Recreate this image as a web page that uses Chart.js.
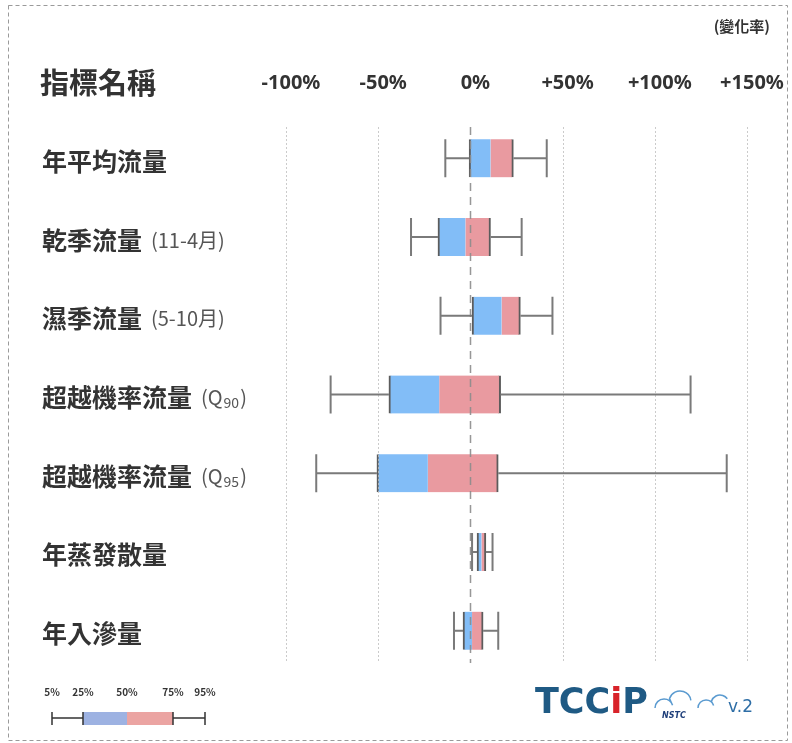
<!DOCTYPE html>
<html>
<head>
<meta charset="utf-8">
<script src="https://cdn.jsdelivr.net/npm/chart.js@4.4.1/dist/chart.umd.min.js"></script>
<style>
  html, body { margin: 0; padding: 0; background: #fff; }
  #wrap { width: 792px; height: 743px; position: relative; }
</style>
</head>
<body>
<div id="wrap"><canvas id="chart" width="792" height="743"></canvas></div>
<script>
// indicator names and their small suffixes
const categories = ['年平均流量', '乾季流量', '濕季流量', '超越機率流量', '超越機率流量', '年蒸發散量', '年入滲量'];
const suffixText = ['', '(11-4月)', '(5-10月)', '(Q', '(Q', '', ''];
const suffixSub = ['', '', '', '90', '95', '', ''];

// percentiles of change rate (%)
const p5  = [-13.6, -32.2, -16.2, -75.8, -83.6, 0.9, -8.9];
const p25 = [-0.7, -17.6, 0.9, -44.2, -50.7, 3.6, -4.0];
const p50 = [10.9, -2.7, 16.9, -16.9, -23.1, 6.0, 0.9];
const p75 = [23.3, 10.9, 27.1, 16.4, 15.1, 8.4, 6.9];
const p95 = [41.4, 27.8, 44.5, 119.4, 139.0, 12.0, 15.1];

const tickValues = [-100, -50, 0, 50, 100, 150];
const legendLabels = ['5%', '25%', '50%', '75%', '95%'];

const cjk = '"Noto Sans CJK TC", "Noto Sans", sans-serif';

function tickLabel(v) {
    return (v > 0 ? '+' : '') + v + '%';
}

// gridlines (drawn over the boxes, like the original) and the top tick labels
const gridPlugin = {
    id: 'grid',
    afterDatasetsDraw(chart) {
        const ctx = chart.ctx;
        const x = chart.scales.x;
        const top = chart.chartArea.top + 8;
        const bottom = chart.chartArea.bottom - 7;
        ctx.save();
        tickValues.forEach(v => {
            const px = Math.round(x.getPixelForValue(v)) + 0.5;
            ctx.beginPath();
            if (v === 0) {
                ctx.strokeStyle = 'rgba(140,140,140,0.9)';
                ctx.lineWidth = 1.5;
                ctx.setLineDash([8, 6]);
            } else {
                ctx.strokeStyle = 'rgba(190,190,190,0.8)';
                ctx.lineWidth = 1;
                ctx.setLineDash([2, 2]);
            }
            ctx.moveTo(px, top);
            ctx.lineTo(px, bottom);
            ctx.stroke();
        });
        ctx.setLineDash([]);
        ctx.fillStyle = '#333';
        ctx.font = 'bold 20px "Noto Sans", sans-serif';
        ctx.textAlign = 'center';
        ctx.textBaseline = 'middle';
        tickValues.forEach(v => {
            ctx.fillText(tickLabel(v), x.getPixelForValue(v) + 5, 83);
        });
        ctx.restore();
    }
};

// whiskers 5%-25% and 75%-95%
const whiskerPlugin = {
    id: 'whiskers',
    afterDatasetsDraw(chart) {
        const ctx = chart.ctx;
        const x = chart.scales.x;
        const y = chart.scales.y;
        const half = 19;
        ctx.save();
        ctx.strokeStyle = '#7a7a7a';
        ctx.lineWidth = 2;
        categories.forEach((c, i) => {
            const py = y.getPixelForValue(i);
            const x5 = x.getPixelForValue(p5[i]);
            const x25 = x.getPixelForValue(p25[i]);
            const x75 = x.getPixelForValue(p75[i]);
            const x95 = x.getPixelForValue(p95[i]);
            ctx.beginPath();
            ctx.moveTo(x5, py); ctx.lineTo(x25, py);
            ctx.moveTo(x75, py); ctx.lineTo(x95, py);
            ctx.moveTo(x5, py - half); ctx.lineTo(x5, py + half);
            ctx.moveTo(x95, py - half); ctx.lineTo(x95, py + half);
            ctx.stroke();
        });
        ctx.restore();
    }
};

// row labels, header, frame, legend and logo
const decorPlugin = {
    id: 'decor',
    afterDraw(chart) {
        const ctx = chart.ctx;
        const y = chart.scales.y;
        ctx.save();

        // dashed frame
        ctx.strokeStyle = '#9a9a9a';
        ctx.lineWidth = 1;
        ctx.setLineDash([4, 3]);
        ctx.strokeRect(8.5, 5.5, 779, 735);
        ctx.setLineDash([]);

        // header
        ctx.fillStyle = '#333';
        ctx.textBaseline = 'middle';
        ctx.textAlign = 'left';
        ctx.font = 'bold 29px ' + cjk;
        ctx.fillText('指標名稱', 40, 83);
        ctx.font = 'bold 15px ' + cjk;
        ctx.textAlign = 'right';
        ctx.fillText('(變化率)', 770, 26);
        ctx.textAlign = 'left';

        // row labels
        categories.forEach((c, i) => {
            const py = y.getPixelForValue(i) + 3;
            ctx.fillStyle = '#333';
            ctx.font = 'bold 25px ' + cjk;
            ctx.fillText(c, 42, py);
            let px = 42 + ctx.measureText(c).width + 9;
            if (suffixText[i]) {
                ctx.fillStyle = '#555';
                ctx.font = '20px ' + cjk;
                ctx.fillText(suffixText[i], px, py);
                px += ctx.measureText(suffixText[i]).width;
                if (suffixSub[i]) {
                    ctx.font = '14px ' + cjk;
                    ctx.fillText(suffixSub[i], px + 1, py + 5);
                    px += ctx.measureText(suffixSub[i]).width + 2;
                    ctx.font = '20px ' + cjk;
                    ctx.fillText(')', px, py);
                }
            }
        });

        // legend
        const lx = [52, 83, 127, 173, 205];
        const ly = 718;
        ctx.font = 'bold 10px ' + cjk;
        ctx.fillStyle = '#333';
        ctx.textAlign = 'center';
        legendLabels.forEach((t, i) => ctx.fillText(t, lx[i], 692));
        ctx.fillStyle = '#9db2e2';
        ctx.fillRect(lx[1], ly - 6, lx[2] - lx[1], 13);
        ctx.fillStyle = '#eba4a2';
        ctx.fillRect(lx[2], ly - 6, lx[3] - lx[2], 13);
        ctx.strokeStyle = '#333';
        ctx.lineWidth = 1.5;
        ctx.beginPath();
        ctx.moveTo(lx[0], ly); ctx.lineTo(lx[1], ly);
        ctx.moveTo(lx[3], ly); ctx.lineTo(lx[4], ly);
        ctx.moveTo(lx[0], ly - 6); ctx.lineTo(lx[0], ly + 7);
        ctx.moveTo(lx[4], ly - 6); ctx.lineTo(lx[4], ly + 7);
        ctx.moveTo(lx[1], ly - 6); ctx.lineTo(lx[1], ly + 7);
        ctx.moveTo(lx[3], ly - 6); ctx.lineTo(lx[3], ly + 7);
        ctx.stroke();

        // logo
        ctx.textAlign = 'left';
        ctx.font = 'bold 35px "DejaVu Sans", sans-serif';
        ctx.fillStyle = '#1f5a84';
        ctx.fillText('TCC', 535, 704);
        let gx = 535 + ctx.measureText('TCC').width;
        ctx.fillStyle = '#d8232a';
        ctx.fillText('i', gx, 704);
        gx += ctx.measureText('i').width;
        ctx.fillStyle = '#1f5a84';
        ctx.fillText('P', gx, 704);
        ctx.strokeStyle = '#5b9bd0';
        ctx.lineWidth = 1.5;
        ctx.beginPath();
        ctx.arc(664, 708, 9, Math.PI, 1.9 * Math.PI);
        ctx.arc(680, 702, 11, 1.1 * Math.PI, 1.95 * Math.PI);
        ctx.stroke();
        ctx.beginPath();
        ctx.arc(706, 708, 8, Math.PI, 1.9 * Math.PI);
        ctx.arc(720, 704, 9, 1.1 * Math.PI, 1.8 * Math.PI);
        ctx.stroke();
        ctx.font = 'italic bold 8px "DejaVu Sans", sans-serif';
        ctx.fillStyle = '#1f3f7a';
        ctx.fillText('NSTC', 662, 716);
        ctx.font = '17px "DejaVu Sans", sans-serif';
        ctx.fillStyle = '#2e6ea6';
        ctx.fillText('v.2', 728, 708);

        ctx.restore();
    }
};

const ctx = document.getElementById('chart').getContext('2d');
new Chart(ctx, {
    type: 'bar',
    data: {
        labels: categories,
        datasets: [{
            label: '25%-50%',
            data: categories.map((c, i) => [p25[i], p50[i]]),
            backgroundColor: '#82bdf7',
            borderColor: '#5c5c5c',
            borderWidth: { left: 2, right: 0, top: 0, bottom: 0 },
            borderSkipped: false,
            barThickness: 38,
            grouped: false
        }, {
            label: '50%-75%',
            data: categories.map((c, i) => [p50[i], p75[i]]),
            backgroundColor: '#e99aa0',
            borderColor: '#5c5c5c',
            borderWidth: { left: 0, right: 2, top: 0, bottom: 0 },
            borderSkipped: false,
            barThickness: 38,
            grouped: false
        }]
    },
    options: {
        indexAxis: 'y',
        responsive: false,
        animation: false,
        layout: { padding: { left: 286, right: 45, top: 119, bottom: 73 } },
        plugins: {
            legend: { display: false },
            tooltip: { enabled: false }
        },
        scales: {
            x: {
                display: false,
                min: -100,
                max: 150
            },
            y: {
                display: false,
                offset: true,
                grid: { display: false }
            }
        }
    },
    plugins: [gridPlugin, whiskerPlugin, decorPlugin]
});
</script>
</body>
</html>
